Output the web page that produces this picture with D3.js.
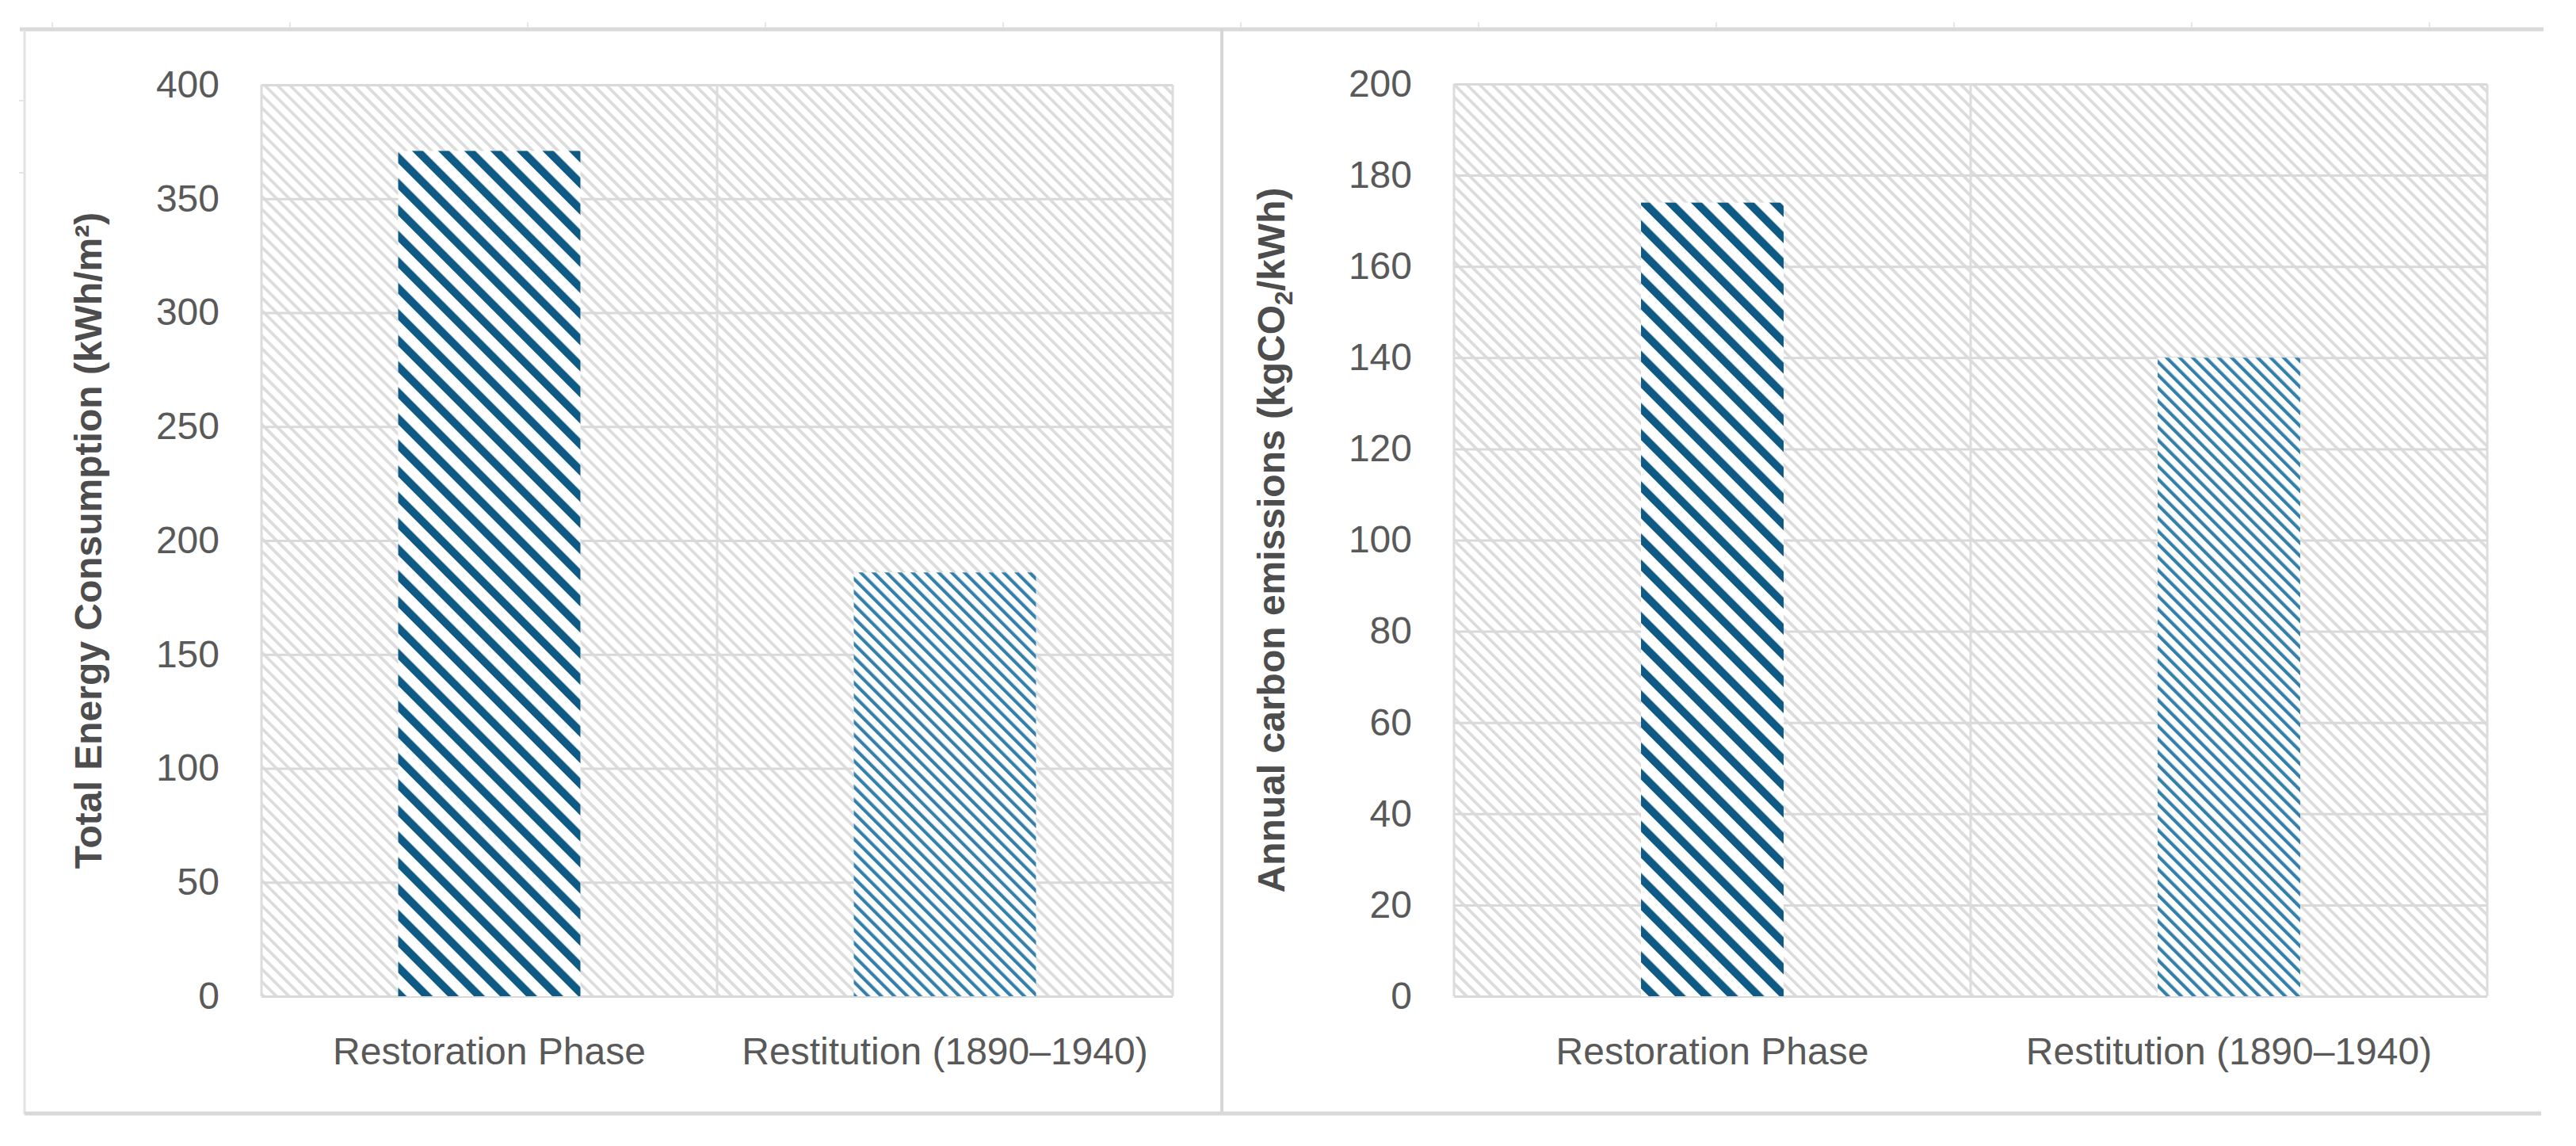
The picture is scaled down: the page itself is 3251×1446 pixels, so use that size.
<!DOCTYPE html>
<html><head><meta charset="utf-8">
<script src="https://cdn.jsdelivr.net/npm/d3@7"></script>
<style>html,body{margin:0;padding:0;background:#fff;} svg{display:block;}</style>
</head><body><svg id="c" width="3251" height="1446"></svg>
<script>
// ---- data ----
const categories = ["Restoration Phase", "Restitution (1890–1940)"];
const energyValues = [371, 186];
const carbonValues = [174, 140];
const energyTicks = [0, 50, 100, 150, 200, 250, 300, 350, 400];
const carbonTicks = [0, 20, 40, 60, 80, 100, 120, 140, 160, 180, 200];
const energyTitle = "Total Energy Consumption (kWh/m²)";
const carbonTitleParts = ["Annual carbon emissions (kgCO", "2", "/kWh)"];

// ---- layout ----
const FONT = "'Liberation Sans', Arial, sans-serif";
const svg = d3.select("#c");
const defs = svg.append("defs");

function stripePattern(id, spacing, width, color) {
  const p = defs.append("pattern").attr("id", id)
    .attr("patternUnits", "userSpaceOnUse")
    .attr("width", spacing).attr("height", spacing)
    .attr("patternTransform", "rotate(-45)");
  p.append("rect").attr("width", width).attr("height", spacing).attr("x", 0).attr("fill", color);
}
stripePattern("bgHatch", 11.3, 3.8, "#dcdcdc");
stripePattern("bar0", 23.3, 10, "#0f5a84");
stripePattern("bar1", 11.6, 4.2, "#3580aa");

// frame decoration
const frame = svg.append("g");
frame.append("line").attr("x1", 25).attr("x2", 3210).attr("y1", 37).attr("y2", 37)
  .attr("stroke", "#d9d9d9").attr("stroke-width", 5);
d3.range(66, 3210, 300).forEach(x => {
  frame.append("line").attr("x1", x).attr("x2", x).attr("y1", 28).attr("y2", 35)
    .attr("stroke", "#e6e6e6").attr("stroke-width", 2);
});
frame.append("line").attr("x1", 31).attr("x2", 31).attr("y1", 37).attr("y2", 1406)
  .attr("stroke", "#e2e2e2").attr("stroke-width", 3);
[127, 218].forEach(y => frame.append("line").attr("x1", 24).attr("x2", 31).attr("y1", y).attr("y2", y)
  .attr("stroke", "#e6e6e6").attr("stroke-width", 2));
frame.append("line").attr("x1", 1542).attr("x2", 1542).attr("y1", 37).attr("y2", 1406)
  .attr("stroke", "#d6d6d6").attr("stroke-width", 4);
frame.append("line").attr("x1", 31).attr("x2", 3207).attr("y1", 1405).attr("y2", 1405)
  .attr("stroke", "#d9d9d9").attr("stroke-width", 5);

const panels = [
  { values: energyValues, ticks: energyTicks, left: 330, right: 1480, top: 107, bottom: 1257,
    barFrac: 0.40, titleX: 128, title: [energyTitle] },
  { values: carbonValues, ticks: carbonTicks, left: 1835, right: 3139, top: 106, bottom: 1257,
    barFrac: 0.276, titleX: 1621, title: carbonTitleParts }
];

panels.forEach(P => {
  const g = svg.append("g");
  const x = d3.scaleBand().domain(categories).range([P.left, P.right]).padding(0);
  const y = d3.scaleLinear().domain([P.ticks[0], P.ticks[P.ticks.length - 1]]).range([P.bottom, P.top]);
  const W = P.right - P.left;

  // plot background hatch
  g.append("rect").attr("x", P.left).attr("y", P.top).attr("width", W).attr("height", P.bottom - P.top)
    .attr("fill", "url(#bgHatch)");

  // horizontal gridlines
  const grid = g.append("g").attr("transform", `translate(${P.left},0)`)
    .call(d3.axisLeft(y).tickValues(P.ticks).tickSize(-W).tickFormat(""));
  grid.select(".domain").remove();
  grid.selectAll("line").attr("stroke", "#d9d9d9").attr("stroke-width", 3);

  // vertical category boundaries
  const bounds = categories.map(c => x(c)).concat([P.right]);
  g.selectAll(".vline").data(bounds).enter().append("line")
    .attr("x1", d => d).attr("x2", d => d).attr("y1", P.top).attr("y2", P.bottom)
    .attr("stroke", "#dcdcdc").attr("stroke-width", 3);

  // bars
  const bw = x.bandwidth() * P.barFrac;
  categories.forEach((c, i) => {
    const bx = x(c) + (x.bandwidth() - bw) / 2;
    const by = y(P.values[i]);
    g.append("rect").attr("x", bx).attr("y", by).attr("width", bw).attr("height", y(0) - by).attr("fill", "#fff");
    g.append("rect").attr("x", bx).attr("y", by).attr("width", bw).attr("height", y(0) - by)
      .attr("fill", `url(#bar${i})`);
  });

  // y tick labels
  const ax = g.append("g").attr("transform", `translate(${P.left},0)`)
    .call(d3.axisLeft(y).tickValues(P.ticks).tickSize(0).tickPadding(53));
  ax.select(".domain").remove();
  ax.selectAll("text").attr("font-family", FONT).attr("font-size", 48).attr("fill", "#595959");

  // x labels
  g.selectAll(".xl").data(categories).enter().append("text")
    .attr("x", d => x(d) + x.bandwidth() / 2).attr("y", 1343)
    .attr("text-anchor", "middle").attr("font-family", FONT).attr("font-size", 48)
    .attr("fill", "#595959").text(d => d);

  // y title
  const t = g.append("text")
    .attr("transform", `translate(${P.titleX},${(P.top + P.bottom) / 2}) rotate(-90)`)
    .attr("text-anchor", "middle").attr("font-family", FONT).attr("font-size", 48)
    .attr("font-weight", "bold").attr("fill", "#4d4d4d");
  if (P.title.length === 1) {
    t.text(P.title[0]);
  } else {
    t.append("tspan").text(P.title[0]);
    t.append("tspan").attr("font-size", 32).attr("dy", 10).text(P.title[1]);
    t.append("tspan").attr("dy", -10).text(P.title[2]);
  }
});
</script>
</body></html>
